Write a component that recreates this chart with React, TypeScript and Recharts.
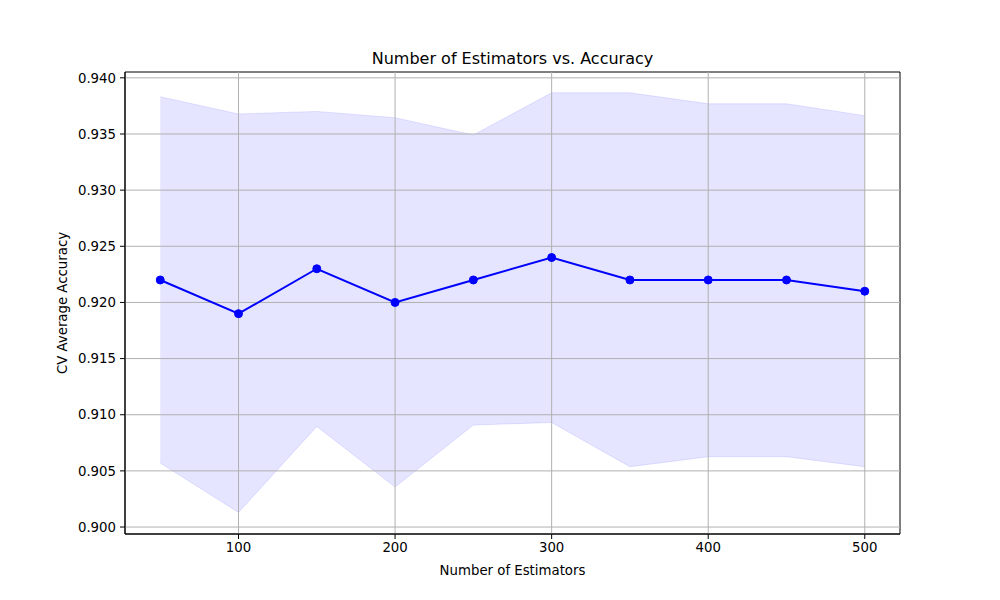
import {
  ComposedChart,
  Area,
  Line,
  XAxis,
  YAxis,
  ReferenceLine,
  ReferenceArea,
} from "recharts";

const estimators = [50, 100, 150, 200, 250, 300, 350, 400, 450, 500];
const meanAccuracy = [0.922, 0.919, 0.923, 0.92, 0.922, 0.924, 0.922, 0.922, 0.922, 0.921];
const upperBand = [0.93832, 0.93678, 0.93701, 0.93645, 0.93491, 0.93867, 0.93867, 0.93769, 0.93769, 0.93663];
const lowerBand = [0.9057, 0.9013, 0.90896, 0.90356, 0.90908, 0.90931, 0.90537, 0.90626, 0.90626, 0.90537];

const xTicks = [100, 200, 300, 400, 500];
const yTicks = [0.9, 0.905, 0.91, 0.915, 0.92, 0.925, 0.93, 0.935, 0.94];

const xDomain: [number, number] = [27.5, 522.5];
const yDomain: [number, number] = [0.89938, 0.94052];

const data = estimators.map((n, i) => ({
  n,
  mean: meanAccuracy[i],
  band: [lowerBand[i], upperBand[i]],
}));

const font = "'DejaVu Sans', sans-serif";

export default function App() {
  return (
    <div
      style={{
        position: "absolute",
        left: 0,
        top: 0,
        width: 1000,
        height: 600,
        background: "#fff",
        fontFamily: font,
      }}
    >
      <div
        style={{
          position: "absolute",
          left: 125,
          width: 775,
          top: 49,
          textAlign: "center",
          fontSize: 16,
          color: "#000",
        }}
      >
        Number of Estimators vs. Accuracy
      </div>
      <div
        style={{
          position: "absolute",
          left: 125,
          width: 775,
          top: 563,
          textAlign: "center",
          fontSize: 13.3,
          color: "#000",
        }}
      >
        Number of Estimators
      </div>
      <div
        style={{
          position: "absolute",
          left: 62,
          top: 303,
          transform: "translate(-50%, -50%) rotate(-90deg)",
          whiteSpace: "nowrap",
          fontSize: 13.3,
          color: "#000",
        }}
      >
        CV Average Accuracy
      </div>
      <ComposedChart
        width={1000}
        height={600}
        data={data}
        margin={{ top: 72, right: 100, bottom: 0, left: 0 }}
      >
        <XAxis
          dataKey="n"
          type="number"
          domain={xDomain}
          ticks={xTicks}
          height={66}
          tickSize={5}
          tickMargin={4}
          axisLine={{ stroke: "#000" }}
          tickLine={{ stroke: "#000" }}
          tick={{ fill: "#000", fontSize: 13.3, fontFamily: font }}
          allowDataOverflow
        />
        <YAxis
          type="number"
          domain={yDomain}
          ticks={yTicks}
          width={125}
          tickSize={5}
          tickMargin={4}
          axisLine={{ stroke: "#000" }}
          tickLine={{ stroke: "#000" }}
          tick={{ fill: "#000", fontSize: 13.3, fontFamily: font }}
          tickFormatter={(v: number) => v.toFixed(3)}
          allowDataOverflow
        />
        <Area
          dataKey="band"
          type="linear"
          fill="#0000ff"
          fillOpacity={0.1}
          stroke="#0000ff"
          strokeOpacity={0.1}
          strokeWidth={1}
          isAnimationActive={false}
          activeDot={false}
        />
        {/* grid drawn as reference lines so it sits above the band */}
        {xTicks.map((t) => (
          <ReferenceLine key={"gx" + t} x={t} stroke="#b0b0b0" strokeWidth={1} />
        ))}
        {yTicks.map((t) => (
          <ReferenceLine key={"gy" + t} y={t} stroke="#b0b0b0" strokeWidth={1} />
        ))}
        <Line
          dataKey="mean"
          type="linear"
          stroke="#0000ff"
          strokeWidth={2}
          dot={{ r: 4, fill: "#0000ff", stroke: "#0000ff", strokeWidth: 1 }}
          activeDot={false}
          isAnimationActive={false}
        />
        <ReferenceArea
          x1={xDomain[0]}
          x2={xDomain[1]}
          y1={yDomain[0]}
          y2={yDomain[1]}
          fill="none"
          stroke="#000"
          strokeWidth={1}
          ifOverflow="visible"
        />
      </ComposedChart>
    </div>
  );
}
